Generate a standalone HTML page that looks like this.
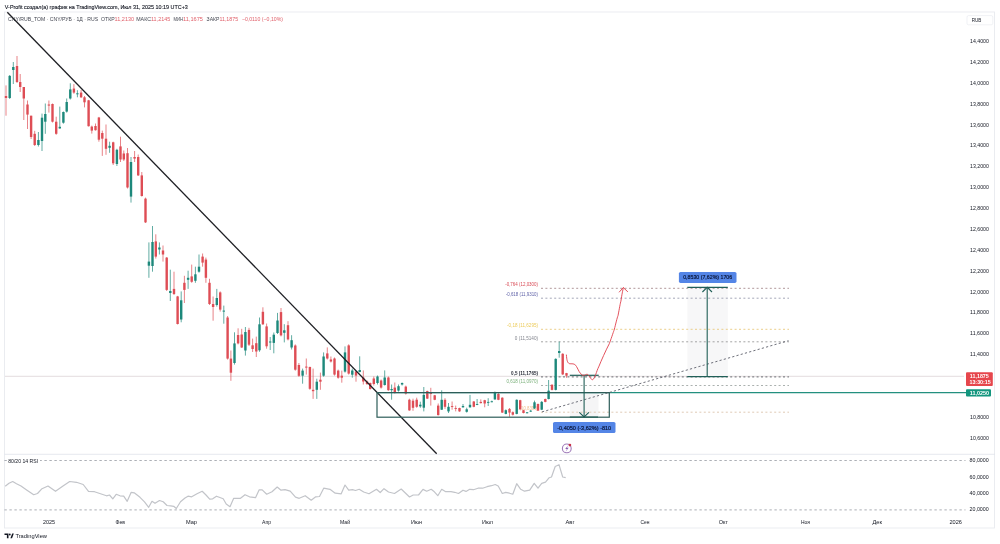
<!DOCTYPE html>
<html><head><meta charset="utf-8"><title>CNY/RUB chart</title>
<style>html,body{margin:0;padding:0;background:#fff;width:1000px;height:544px;overflow:hidden}svg{display:block;filter:blur(0.3px)}</style>
</head><body>
<svg width="1000" height="544" viewBox="0 0 1000 544" font-family="'Liberation Sans', 'Noto Sans CJK SC', sans-serif">
<rect width="1000" height="544" fill="#ffffff"/>
<text x="4.8" y="8.6" font-size="5.8" fill="#131722" textLength="183" lengthAdjust="spacingAndGlyphs" stroke="#131722" stroke-width="0.12">V-Profit создал(а) график на TradingView.com, Июл 31, 2025 10:19 UTC+3</text>
<rect x="4.5" y="12" width="990" height="516" fill="none" stroke="#e8eaef" stroke-width="0.9"/>
<line x1="4.5" y1="454.3" x2="995" y2="454.3" stroke="#e0e3eb" stroke-width="0.8"/>
<text x="8.1" y="20.9" font-size="5.4" fill="#434651" textLength="90" lengthAdjust="spacingAndGlyphs">CNY/RUB_TOM · CNY/РУБ · 1Д · RUS</text>
<text x="101" y="20.9" font-size="5.4" fill="#434651" textLength="13.6" lengthAdjust="spacingAndGlyphs">ОТКР</text><text x="114.6" y="20.9" font-size="5.4" fill="#e0606a" textLength="19.6" lengthAdjust="spacingAndGlyphs">11,2130</text>
<text x="136.2" y="20.9" font-size="5.4" fill="#434651" textLength="14.8" lengthAdjust="spacingAndGlyphs">МАКС</text><text x="151.0" y="20.9" font-size="5.4" fill="#e0606a" textLength="19.2" lengthAdjust="spacingAndGlyphs">11,2145</text>
<text x="173.4" y="20.9" font-size="5.4" fill="#434651" textLength="9.6" lengthAdjust="spacingAndGlyphs">МИН</text><text x="183.0" y="20.9" font-size="5.4" fill="#e0606a" textLength="20" lengthAdjust="spacingAndGlyphs">11,1675</text>
<text x="206.6" y="20.9" font-size="5.4" fill="#434651" textLength="12.8" lengthAdjust="spacingAndGlyphs">ЗАКР</text><text x="219.4" y="20.9" font-size="5.4" fill="#e0606a" textLength="18.8" lengthAdjust="spacingAndGlyphs">11,1875</text>
<text x="241.9" y="20.9" font-size="5.4" fill="#e0606a" textLength="41.1" lengthAdjust="spacingAndGlyphs">−0,0110 (−0,10%)</text>
<rect x="967" y="15.6" width="25.8" height="9.2" rx="1.5" fill="#fff" stroke="#e6e8ee" stroke-width="0.6"/>
<text x="971.7" y="21.9" font-size="5.0" fill="#131722" textLength="9.7" lengthAdjust="spacingAndGlyphs">RUB</text>
<text x="970.1" y="43.1" font-size="5.2" fill="#131722" textLength="18.8" lengthAdjust="spacingAndGlyphs">14,4000</text>
<text x="970.1" y="63.97" font-size="5.2" fill="#131722" textLength="18.8" lengthAdjust="spacingAndGlyphs">14,2000</text>
<text x="970.1" y="84.84" font-size="5.2" fill="#131722" textLength="18.8" lengthAdjust="spacingAndGlyphs">14,0000</text>
<text x="970.1" y="105.71" font-size="5.2" fill="#131722" textLength="18.8" lengthAdjust="spacingAndGlyphs">13,8000</text>
<text x="970.1" y="126.58" font-size="5.2" fill="#131722" textLength="18.8" lengthAdjust="spacingAndGlyphs">13,6000</text>
<text x="970.1" y="147.45" font-size="5.2" fill="#131722" textLength="18.8" lengthAdjust="spacingAndGlyphs">13,4000</text>
<text x="970.1" y="168.32" font-size="5.2" fill="#131722" textLength="18.8" lengthAdjust="spacingAndGlyphs">13,2000</text>
<text x="970.1" y="189.19" font-size="5.2" fill="#131722" textLength="18.8" lengthAdjust="spacingAndGlyphs">13,0000</text>
<text x="970.1" y="210.06" font-size="5.2" fill="#131722" textLength="18.8" lengthAdjust="spacingAndGlyphs">12,8000</text>
<text x="970.1" y="230.93" font-size="5.2" fill="#131722" textLength="18.8" lengthAdjust="spacingAndGlyphs">12,6000</text>
<text x="970.1" y="251.8" font-size="5.2" fill="#131722" textLength="18.8" lengthAdjust="spacingAndGlyphs">12,4000</text>
<text x="970.1" y="272.67" font-size="5.2" fill="#131722" textLength="18.8" lengthAdjust="spacingAndGlyphs">12,2000</text>
<text x="970.1" y="293.54" font-size="5.2" fill="#131722" textLength="18.8" lengthAdjust="spacingAndGlyphs">12,0000</text>
<text x="970.1" y="314.41" font-size="5.2" fill="#131722" textLength="18.8" lengthAdjust="spacingAndGlyphs">11,8000</text>
<text x="970.1" y="335.28" font-size="5.2" fill="#131722" textLength="18.8" lengthAdjust="spacingAndGlyphs">11,6000</text>
<text x="970.1" y="356.15" font-size="5.2" fill="#131722" textLength="18.8" lengthAdjust="spacingAndGlyphs">11,4000</text>
<text x="970.1" y="377.02" font-size="5.2" fill="#131722" textLength="18.8" lengthAdjust="spacingAndGlyphs">11,2000</text>
<text x="970.1" y="418.76" font-size="5.2" fill="#131722" textLength="18.8" lengthAdjust="spacingAndGlyphs">10,8000</text>
<text x="970.1" y="439.63" font-size="5.2" fill="#131722" textLength="18.8" lengthAdjust="spacingAndGlyphs">10,6000</text>
<text x="969.5" y="462.4" font-size="5.0" fill="#131722" textLength="19.2" lengthAdjust="spacingAndGlyphs">80,0000</text>
<text x="969.5" y="478.7" font-size="5.0" fill="#131722" textLength="19.2" lengthAdjust="spacingAndGlyphs">60,0000</text>
<text x="969.5" y="495.0" font-size="5.0" fill="#131722" textLength="19.2" lengthAdjust="spacingAndGlyphs">40,0000</text>
<text x="969.5" y="511.4" font-size="5.0" fill="#131722" textLength="19.2" lengthAdjust="spacingAndGlyphs">20,0000</text>
<text x="42.9" y="523.7" font-size="5.8" fill="#131722" textLength="12.1" lengthAdjust="spacingAndGlyphs">2025</text>
<text x="115.5" y="523.7" font-size="5.8" fill="#131722" textLength="9.5" lengthAdjust="spacingAndGlyphs">Фев</text>
<text x="186" y="523.7" font-size="5.8" fill="#131722" textLength="11" lengthAdjust="spacingAndGlyphs">Мар</text>
<text x="262" y="523.7" font-size="5.8" fill="#131722" textLength="9" lengthAdjust="spacingAndGlyphs">Апр</text>
<text x="340" y="523.7" font-size="5.8" fill="#131722" textLength="10" lengthAdjust="spacingAndGlyphs">Май</text>
<text x="411" y="523.7" font-size="5.8" fill="#131722" textLength="11" lengthAdjust="spacingAndGlyphs">Июн</text>
<text x="482" y="523.7" font-size="5.8" fill="#131722" textLength="11" lengthAdjust="spacingAndGlyphs">Июл</text>
<text x="565.5" y="523.7" font-size="5.8" fill="#131722" textLength="9" lengthAdjust="spacingAndGlyphs">Авг</text>
<text x="640.5" y="523.7" font-size="5.8" fill="#131722" textLength="9" lengthAdjust="spacingAndGlyphs">Сен</text>
<text x="718.8" y="523.7" font-size="5.8" fill="#131722" textLength="9.2" lengthAdjust="spacingAndGlyphs">Окт</text>
<text x="801" y="523.7" font-size="5.8" fill="#131722" textLength="9" lengthAdjust="spacingAndGlyphs">Ноя</text>
<text x="872.5" y="523.7" font-size="5.8" fill="#131722" textLength="9.5" lengthAdjust="spacingAndGlyphs">Дек</text>
<text x="949.5" y="523.7" font-size="5.8" fill="#131722" textLength="12.5" lengthAdjust="spacingAndGlyphs">2026</text>
<line x1="4.4" y1="460.5" x2="965.5" y2="460.5" stroke="#a3a6ad" stroke-width="0.9" stroke-dasharray="2.4 2.6"/>
<line x1="4.4" y1="509.9" x2="965.5" y2="509.9" stroke="#a3a6ad" stroke-width="0.9" stroke-dasharray="2.4 2.6"/>
<rect x="7" y="457.5" width="33" height="7" fill="#fff"/>
<text x="8.2" y="463.2" font-size="5.0" fill="#131722" textLength="30" lengthAdjust="spacingAndGlyphs">80/20 14 RSI</text>
<polyline points="5.2,486.3 9,483.3 12.7,481.5 16.5,483.8 21,486 27,490.2 33.7,494.7 37.5,493.5 42,488.7 48,486 55.5,491.3 63,486 69.7,481.5 76.5,482.3 83.2,484.5 88.5,491.3 94.5,491.7 100.5,493.8 106.5,495.8 109.5,495 112.8,498.8 116.2,494.3 120,495.8 123.7,496.2 127.2,501.3 131.2,492.3 134.2,492.8 140,497.3 144.5,501.8 148.7,507.3 152,501.3 155,503.3 159.5,500.5 163.2,501.8 167,505.5 170.7,505.8 173.7,506.3 176.3,508.5 180.5,501.8 185,498 188,496.2 191.7,496.8 197,493.8 202.2,491.3 206,495 209.7,499.2 212.7,498.8 216.5,496.2 223.2,498.8 226.2,504 230,506.7 233.7,498.3 240.5,498.3 245,494.7 249.5,496.8 255.5,497.7 259.2,489.8 262.2,489.9 266.7,494.2 272,491.7 277.2,487 281,490.2 285,489.7 290.2,491.2 295.5,497.2 299.2,498.3 305.2,495.7 311.2,500.2 315.7,496.8 319.5,496.5 323.7,488.2 330,489.3 335.2,493.2 341.2,493.8 345,485 348.7,490.2 352.5,489.7 355.5,490.5 359.2,489.3 363.7,492 369,493.8 376.5,489.3 380.2,492.5 384,488.7 388.5,492 394.5,493.5 401.2,489 409.5,497 413.2,495 418.5,495 423,489.4 426.7,491.2 431.2,489.3 433.7,491.2 437.8,495.7 441.7,489.3 445.7,491.7 451,491.7 454.7,492.3 458.5,493.5 463,490.2 466,491.4 469.7,489.3 473.5,489.7 478,488.2 482.5,488.2 487,486.7 491.5,485.7 495.2,484.5 498.2,486 502.3,493.5 505.7,492.4 509.5,493.2 512.8,494.2 516.7,483.7 520.7,489.3 524.5,491.2 529.7,490.2 534.2,483.3 538,488.2 541.7,483.3 545.5,482.2 549.2,477.7 551.5,477 555.2,466.5 559,464.7 562.7,477 565.7,477.7" fill="none" stroke="#c2c4c9" stroke-width="1.2" stroke-linejoin="round"/>
<line x1="5" y1="376.3" x2="964" y2="376.3" stroke="#ddd3d6" stroke-width="0.8"/>
<rect x="687.3" y="287.3" width="40.5" height="89.4" fill="#f6f6f7" fill-opacity="0.9"/>
<rect x="570" y="393" width="28.5" height="24" fill="#f5f5f6"/>
<line x1="541" y1="288.3" x2="789" y2="288.3" stroke="#a88c8e" stroke-width="0.9" stroke-dasharray="2 2.4"/>
<text x="505.2" y="286.0" font-size="4.9" fill="#d84a55" textLength="32.8" lengthAdjust="spacingAndGlyphs">-0,764 (12,0300)</text>
<line x1="541" y1="298.2" x2="789" y2="298.2" stroke="#9a9db0" stroke-width="0.9" stroke-dasharray="2 2.4"/>
<text x="505.8" y="295.9" font-size="4.9" fill="#5c5fa6" textLength="32.2" lengthAdjust="spacingAndGlyphs">-0,618 (11,9310)</text>
<line x1="541" y1="329.3" x2="789" y2="329.3" stroke="#e9c97e" stroke-width="0.9" stroke-dasharray="2 2.4"/>
<text x="507.1" y="327.0" font-size="4.9" fill="#eccb5a" textLength="30.9" lengthAdjust="spacingAndGlyphs">-0,18 (11,6295)</text>
<line x1="541" y1="341.8" x2="789" y2="341.8" stroke="#9a9a9a" stroke-width="0.9" stroke-dasharray="2 2.4"/>
<text x="514.8" y="339.5" font-size="4.9" fill="#80838c" textLength="23.2" lengthAdjust="spacingAndGlyphs">0 (11,5140)</text>
<line x1="541" y1="376.9" x2="789" y2="376.9" stroke="#6a6d72" stroke-width="1.0" stroke-dasharray="2 2.4"/>
<text x="511.1" y="374.6" font-size="4.9" fill="#2a2e39" font-weight="bold" textLength="26.9" lengthAdjust="spacingAndGlyphs">0,5 (11,1765)</text>
<line x1="541" y1="385.5" x2="789" y2="385.5" stroke="#a2a8a6" stroke-width="0.9" stroke-dasharray="2 2.4"/>
<text x="506.5" y="383.2" font-size="4.9" fill="#7ab07a" textLength="31.5" lengthAdjust="spacingAndGlyphs">0,618 (11,0970)</text>
<line x1="541" y1="412.2" x2="789" y2="412.2" stroke="#dcc4ae" stroke-width="0.9" stroke-dasharray="2 2.4"/>
<text x="516" y="409.9" font-size="4.9" fill="#efbf8e" textLength="22" lengthAdjust="spacingAndGlyphs">1 (10,8390)</text>
<line x1="6.0" y1="85.4" x2="6.0" y2="115.7" stroke="#de4d55" stroke-width="0.7"/>
<rect x="4.80" y="96.0" width="2.4" height="2.00" fill="#de4d55"/>
<line x1="9.7" y1="75.0" x2="9.7" y2="99.0" stroke="#1d887b" stroke-width="0.7"/>
<rect x="8.50" y="75.9" width="2.4" height="22.10" fill="#1d887b"/>
<line x1="13.3" y1="62.0" x2="13.3" y2="84.0" stroke="#1d887b" stroke-width="0.7"/>
<rect x="12.10" y="67.0" width="2.4" height="3.00" fill="#1d887b"/>
<line x1="17.0" y1="56.0" x2="17.0" y2="83.0" stroke="#de4d55" stroke-width="0.7"/>
<rect x="15.80" y="66.0" width="2.4" height="16.00" fill="#de4d55"/>
<line x1="20.2" y1="74.0" x2="20.2" y2="92.0" stroke="#de4d55" stroke-width="0.7"/>
<rect x="19.00" y="82.0" width="2.4" height="5.00" fill="#de4d55"/>
<line x1="23.8" y1="87.0" x2="23.8" y2="120.0" stroke="#de4d55" stroke-width="0.7"/>
<rect x="22.60" y="87.0" width="2.4" height="11.50" fill="#de4d55"/>
<line x1="27.5" y1="100.5" x2="27.5" y2="129.0" stroke="#de4d55" stroke-width="0.7"/>
<rect x="26.30" y="104.5" width="2.4" height="10.10" fill="#de4d55"/>
<line x1="31.1" y1="115.7" x2="31.1" y2="139.0" stroke="#de4d55" stroke-width="0.7"/>
<rect x="29.90" y="115.7" width="2.4" height="21.30" fill="#de4d55"/>
<line x1="34.7" y1="130.8" x2="34.7" y2="146.0" stroke="#de4d55" stroke-width="0.7"/>
<rect x="33.50" y="133.8" width="2.4" height="11.20" fill="#de4d55"/>
<line x1="38.4" y1="132.0" x2="38.4" y2="146.5" stroke="#1d887b" stroke-width="0.7"/>
<rect x="37.20" y="140.0" width="2.4" height="5.00" fill="#1d887b"/>
<line x1="42.0" y1="113.6" x2="42.0" y2="151.0" stroke="#1d887b" stroke-width="0.7"/>
<rect x="40.80" y="117.7" width="2.4" height="23.30" fill="#1d887b"/>
<line x1="45.3" y1="103.5" x2="45.3" y2="133.8" stroke="#1d887b" stroke-width="0.7"/>
<rect x="44.10" y="114.0" width="2.4" height="7.70" fill="#1d887b"/>
<line x1="48.9" y1="100.5" x2="48.9" y2="112.6" stroke="#de4d55" stroke-width="0.7"/>
<rect x="47.70" y="104.5" width="2.4" height="1.10" fill="#de4d55"/>
<line x1="52.5" y1="103.5" x2="52.5" y2="122.5" stroke="#de4d55" stroke-width="0.7"/>
<rect x="51.30" y="104.0" width="2.4" height="17.70" fill="#de4d55"/>
<line x1="56.2" y1="116.7" x2="56.2" y2="134.8" stroke="#de4d55" stroke-width="0.7"/>
<rect x="55.00" y="121.7" width="2.4" height="12.10" fill="#de4d55"/>
<line x1="59.8" y1="106.6" x2="59.8" y2="128.8" stroke="#1d887b" stroke-width="0.7"/>
<rect x="58.60" y="126.8" width="2.4" height="1.60" fill="#1d887b"/>
<line x1="63.4" y1="111.5" x2="63.4" y2="123.7" stroke="#1d887b" stroke-width="0.7"/>
<rect x="62.20" y="112.0" width="2.4" height="10.70" fill="#1d887b"/>
<line x1="66.7" y1="98.5" x2="66.7" y2="112.6" stroke="#1d887b" stroke-width="0.7"/>
<rect x="65.50" y="102.0" width="2.4" height="9.60" fill="#1d887b"/>
<line x1="70.3" y1="83.3" x2="70.3" y2="99.5" stroke="#1d887b" stroke-width="0.7"/>
<rect x="69.10" y="89.4" width="2.4" height="9.10" fill="#1d887b"/>
<line x1="73.9" y1="84.1" x2="73.9" y2="93.8" stroke="#de4d55" stroke-width="0.7"/>
<rect x="72.70" y="88.6" width="2.4" height="4.00" fill="#de4d55"/>
<line x1="77.4" y1="90.2" x2="77.4" y2="97.3" stroke="#1d887b" stroke-width="0.7"/>
<rect x="76.20" y="93.3" width="2.4" height="1.00" fill="#1d887b"/>
<line x1="81.1" y1="90.0" x2="81.1" y2="98.0" stroke="#de4d55" stroke-width="0.7"/>
<rect x="79.90" y="92.6" width="2.4" height="4.70" fill="#de4d55"/>
<line x1="84.5" y1="96.0" x2="84.5" y2="107.4" stroke="#de4d55" stroke-width="0.7"/>
<rect x="83.30" y="97.3" width="2.4" height="5.00" fill="#de4d55"/>
<line x1="88.6" y1="99.9" x2="88.6" y2="126.6" stroke="#de4d55" stroke-width="0.7"/>
<rect x="87.40" y="100.3" width="2.4" height="25.90" fill="#de4d55"/>
<line x1="91.8" y1="125.6" x2="91.8" y2="133.6" stroke="#de4d55" stroke-width="0.7"/>
<rect x="90.60" y="126.6" width="2.4" height="4.00" fill="#de4d55"/>
<line x1="95.5" y1="123.5" x2="95.5" y2="130.6" stroke="#de4d55" stroke-width="0.7"/>
<rect x="94.30" y="126.0" width="2.4" height="4.20" fill="#de4d55"/>
<line x1="98.9" y1="116.9" x2="98.9" y2="141.7" stroke="#de4d55" stroke-width="0.7"/>
<rect x="97.70" y="117.5" width="2.4" height="22.20" fill="#de4d55"/>
<line x1="102.3" y1="130.6" x2="102.3" y2="155.9" stroke="#de4d55" stroke-width="0.7"/>
<rect x="101.10" y="133.0" width="2.4" height="5.70" fill="#de4d55"/>
<line x1="106.0" y1="124.5" x2="106.0" y2="154.8" stroke="#de4d55" stroke-width="0.7"/>
<rect x="104.80" y="138.7" width="2.4" height="10.10" fill="#de4d55"/>
<line x1="109.6" y1="141.7" x2="109.6" y2="152.8" stroke="#1d887b" stroke-width="0.7"/>
<rect x="108.40" y="145.8" width="2.4" height="2.00" fill="#1d887b"/>
<line x1="113.2" y1="141.7" x2="113.2" y2="165.0" stroke="#de4d55" stroke-width="0.7"/>
<rect x="112.00" y="142.3" width="2.4" height="21.00" fill="#de4d55"/>
<line x1="116.9" y1="148.8" x2="116.9" y2="166.0" stroke="#1d887b" stroke-width="0.7"/>
<rect x="115.70" y="149.8" width="2.4" height="14.20" fill="#1d887b"/>
<line x1="120.5" y1="136.7" x2="120.5" y2="162.0" stroke="#de4d55" stroke-width="0.7"/>
<rect x="119.30" y="146.4" width="2.4" height="13.10" fill="#de4d55"/>
<line x1="123.8" y1="150.5" x2="123.8" y2="161.0" stroke="#de4d55" stroke-width="0.7"/>
<rect x="122.60" y="153.5" width="2.4" height="6.00" fill="#de4d55"/>
<line x1="127.5" y1="148.0" x2="127.5" y2="188.5" stroke="#de4d55" stroke-width="0.7"/>
<rect x="126.30" y="153.2" width="2.4" height="34.30" fill="#de4d55"/>
<line x1="131.0" y1="157.0" x2="131.0" y2="202.6" stroke="#1d887b" stroke-width="0.7"/>
<rect x="129.80" y="162.0" width="2.4" height="34.60" fill="#1d887b"/>
<line x1="134.6" y1="151.0" x2="134.6" y2="162.0" stroke="#de4d55" stroke-width="0.7"/>
<rect x="133.40" y="157.0" width="2.4" height="1.60" fill="#de4d55"/>
<line x1="138.2" y1="154.5" x2="138.2" y2="176.0" stroke="#de4d55" stroke-width="0.7"/>
<rect x="137.00" y="157.0" width="2.4" height="18.40" fill="#de4d55"/>
<line x1="141.8" y1="172.0" x2="141.8" y2="196.6" stroke="#de4d55" stroke-width="0.7"/>
<rect x="140.60" y="175.4" width="2.4" height="20.60" fill="#de4d55"/>
<line x1="145.5" y1="197.6" x2="145.5" y2="223.0" stroke="#de4d55" stroke-width="0.7"/>
<rect x="144.30" y="198.6" width="2.4" height="23.80" fill="#de4d55"/>
<line x1="148.9" y1="242.4" x2="148.9" y2="277.8" stroke="#1d887b" stroke-width="0.7"/>
<rect x="147.70" y="261.6" width="2.4" height="4.10" fill="#1d887b"/>
<line x1="152.5" y1="226.0" x2="152.5" y2="271.7" stroke="#1d887b" stroke-width="0.7"/>
<rect x="151.30" y="242.0" width="2.4" height="24.00" fill="#1d887b"/>
<line x1="155.8" y1="234.3" x2="155.8" y2="258.6" stroke="#de4d55" stroke-width="0.7"/>
<rect x="154.60" y="241.4" width="2.4" height="15.20" fill="#de4d55"/>
<line x1="159.4" y1="242.4" x2="159.4" y2="254.5" stroke="#1d887b" stroke-width="0.7"/>
<rect x="158.20" y="247.5" width="2.4" height="2.00" fill="#1d887b"/>
<line x1="163.0" y1="245.5" x2="163.0" y2="261.6" stroke="#de4d55" stroke-width="0.7"/>
<rect x="161.80" y="250.5" width="2.4" height="4.00" fill="#de4d55"/>
<line x1="166.7" y1="257.0" x2="166.7" y2="291.0" stroke="#de4d55" stroke-width="0.7"/>
<rect x="165.50" y="257.6" width="2.4" height="32.30" fill="#de4d55"/>
<line x1="170.3" y1="269.7" x2="170.3" y2="301.0" stroke="#1d887b" stroke-width="0.7"/>
<rect x="169.10" y="291.0" width="2.4" height="2.00" fill="#1d887b"/>
<line x1="174.0" y1="271.7" x2="174.0" y2="295.0" stroke="#de4d55" stroke-width="0.7"/>
<rect x="172.80" y="288.9" width="2.4" height="5.10" fill="#de4d55"/>
<line x1="177.6" y1="295.9" x2="177.6" y2="324.5" stroke="#de4d55" stroke-width="0.7"/>
<rect x="176.40" y="296.4" width="2.4" height="27.60" fill="#de4d55"/>
<line x1="181.2" y1="291.4" x2="181.2" y2="322.3" stroke="#1d887b" stroke-width="0.7"/>
<rect x="180.00" y="300.3" width="2.4" height="19.20" fill="#1d887b"/>
<line x1="184.4" y1="275.8" x2="184.4" y2="303.0" stroke="#de4d55" stroke-width="0.7"/>
<rect x="183.20" y="282.8" width="2.4" height="7.10" fill="#de4d55"/>
<line x1="188.1" y1="270.7" x2="188.1" y2="288.9" stroke="#1d887b" stroke-width="0.7"/>
<rect x="186.90" y="277.8" width="2.4" height="2.00" fill="#1d887b"/>
<line x1="191.7" y1="264.6" x2="191.7" y2="282.8" stroke="#de4d55" stroke-width="0.7"/>
<rect x="190.50" y="276.4" width="2.4" height="5.40" fill="#de4d55"/>
<line x1="195.4" y1="266.7" x2="195.4" y2="282.8" stroke="#1d887b" stroke-width="0.7"/>
<rect x="194.20" y="274.3" width="2.4" height="6.50" fill="#1d887b"/>
<line x1="199.0" y1="254.5" x2="199.0" y2="272.7" stroke="#1d887b" stroke-width="0.7"/>
<rect x="197.80" y="266.7" width="2.4" height="5.00" fill="#1d887b"/>
<line x1="202.6" y1="253.5" x2="202.6" y2="266.7" stroke="#de4d55" stroke-width="0.7"/>
<rect x="201.40" y="256.6" width="2.4" height="6.00" fill="#de4d55"/>
<line x1="205.9" y1="257.6" x2="205.9" y2="282.8" stroke="#de4d55" stroke-width="0.7"/>
<rect x="204.70" y="259.6" width="2.4" height="18.20" fill="#de4d55"/>
<line x1="209.5" y1="278.8" x2="209.5" y2="305.0" stroke="#de4d55" stroke-width="0.7"/>
<rect x="208.30" y="282.8" width="2.4" height="21.20" fill="#de4d55"/>
<line x1="213.1" y1="296.5" x2="213.1" y2="320.7" stroke="#de4d55" stroke-width="0.7"/>
<rect x="211.90" y="304.0" width="2.4" height="3.00" fill="#de4d55"/>
<line x1="216.8" y1="288.9" x2="216.8" y2="306.6" stroke="#1d887b" stroke-width="0.7"/>
<rect x="215.60" y="298.0" width="2.4" height="7.00" fill="#1d887b"/>
<line x1="220.2" y1="291.4" x2="220.2" y2="311.6" stroke="#de4d55" stroke-width="0.7"/>
<rect x="219.00" y="292.4" width="2.4" height="17.20" fill="#de4d55"/>
<line x1="223.8" y1="305.6" x2="223.8" y2="323.7" stroke="#1d887b" stroke-width="0.7"/>
<rect x="222.60" y="310.6" width="2.4" height="1.00" fill="#1d887b"/>
<line x1="227.6" y1="316.0" x2="227.6" y2="359.6" stroke="#de4d55" stroke-width="0.7"/>
<rect x="226.40" y="317.5" width="2.4" height="41.10" fill="#de4d55"/>
<line x1="230.9" y1="350.5" x2="230.9" y2="380.8" stroke="#de4d55" stroke-width="0.7"/>
<rect x="229.70" y="358.6" width="2.4" height="14.10" fill="#de4d55"/>
<line x1="234.5" y1="332.3" x2="234.5" y2="364.6" stroke="#1d887b" stroke-width="0.7"/>
<rect x="233.30" y="343.4" width="2.4" height="19.60" fill="#1d887b"/>
<line x1="238.1" y1="328.3" x2="238.1" y2="344.4" stroke="#de4d55" stroke-width="0.7"/>
<rect x="236.90" y="335.0" width="2.4" height="8.40" fill="#de4d55"/>
<line x1="241.7" y1="328.8" x2="241.7" y2="348.0" stroke="#de4d55" stroke-width="0.7"/>
<rect x="240.50" y="334.5" width="2.4" height="13.00" fill="#de4d55"/>
<line x1="245.4" y1="327.0" x2="245.4" y2="355.6" stroke="#1d887b" stroke-width="0.7"/>
<rect x="244.20" y="332.0" width="2.4" height="18.50" fill="#1d887b"/>
<line x1="249.0" y1="327.8" x2="249.0" y2="346.0" stroke="#de4d55" stroke-width="0.7"/>
<rect x="247.80" y="329.9" width="2.4" height="14.80" fill="#de4d55"/>
<line x1="252.6" y1="338.6" x2="252.6" y2="352.0" stroke="#de4d55" stroke-width="0.7"/>
<rect x="251.40" y="345.3" width="2.4" height="3.70" fill="#de4d55"/>
<line x1="256.3" y1="336.6" x2="256.3" y2="357.0" stroke="#de4d55" stroke-width="0.7"/>
<rect x="255.10" y="343.2" width="2.4" height="8.30" fill="#de4d55"/>
<line x1="259.5" y1="317.5" x2="259.5" y2="351.8" stroke="#1d887b" stroke-width="0.7"/>
<rect x="258.30" y="324.3" width="2.4" height="26.00" fill="#1d887b"/>
<line x1="262.9" y1="307.3" x2="262.9" y2="325.0" stroke="#de4d55" stroke-width="0.7"/>
<rect x="261.70" y="311.8" width="2.4" height="12.50" fill="#de4d55"/>
<line x1="266.6" y1="323.5" x2="266.6" y2="348.7" stroke="#de4d55" stroke-width="0.7"/>
<rect x="265.40" y="326.4" width="2.4" height="19.90" fill="#de4d55"/>
<line x1="270.2" y1="337.0" x2="270.2" y2="350.0" stroke="#1d887b" stroke-width="0.7"/>
<rect x="269.00" y="341.5" width="2.4" height="1.00" fill="#1d887b"/>
<line x1="273.8" y1="332.5" x2="273.8" y2="353.3" stroke="#1d887b" stroke-width="0.7"/>
<rect x="272.60" y="334.7" width="2.4" height="8.20" fill="#1d887b"/>
<line x1="277.5" y1="312.9" x2="277.5" y2="334.0" stroke="#1d887b" stroke-width="0.7"/>
<rect x="276.30" y="320.5" width="2.4" height="12.50" fill="#1d887b"/>
<line x1="281.0" y1="308.0" x2="281.0" y2="336.4" stroke="#de4d55" stroke-width="0.7"/>
<rect x="279.80" y="312.1" width="2.4" height="23.30" fill="#de4d55"/>
<line x1="284.3" y1="324.2" x2="284.3" y2="342.4" stroke="#1d887b" stroke-width="0.7"/>
<rect x="283.10" y="330.3" width="2.4" height="2.50" fill="#1d887b"/>
<line x1="288.0" y1="321.2" x2="288.0" y2="340.4" stroke="#de4d55" stroke-width="0.7"/>
<rect x="286.80" y="325.2" width="2.4" height="14.20" fill="#de4d55"/>
<line x1="291.6" y1="335.2" x2="291.6" y2="349.5" stroke="#1d887b" stroke-width="0.7"/>
<rect x="290.40" y="340.2" width="2.4" height="7.30" fill="#1d887b"/>
<line x1="295.3" y1="344.4" x2="295.3" y2="370.7" stroke="#de4d55" stroke-width="0.7"/>
<rect x="294.10" y="345.5" width="2.4" height="24.20" fill="#de4d55"/>
<line x1="298.9" y1="363.0" x2="298.9" y2="376.8" stroke="#de4d55" stroke-width="0.7"/>
<rect x="297.70" y="365.0" width="2.4" height="10.80" fill="#de4d55"/>
<line x1="302.6" y1="368.6" x2="302.6" y2="383.7" stroke="#1d887b" stroke-width="0.7"/>
<rect x="301.40" y="370.6" width="2.4" height="5.10" fill="#1d887b"/>
<line x1="306.3" y1="358.5" x2="306.3" y2="374.6" stroke="#de4d55" stroke-width="0.7"/>
<rect x="305.10" y="366.6" width="2.4" height="1.00" fill="#de4d55"/>
<line x1="309.9" y1="366.6" x2="309.9" y2="389.8" stroke="#de4d55" stroke-width="0.7"/>
<rect x="308.70" y="367.0" width="2.4" height="21.80" fill="#de4d55"/>
<line x1="313.1" y1="368.6" x2="313.1" y2="398.9" stroke="#de4d55" stroke-width="0.7"/>
<rect x="311.90" y="389.8" width="2.4" height="1.40" fill="#de4d55"/>
<line x1="316.8" y1="378.7" x2="316.8" y2="398.9" stroke="#1d887b" stroke-width="0.7"/>
<rect x="315.60" y="381.7" width="2.4" height="8.10" fill="#1d887b"/>
<line x1="320.4" y1="372.6" x2="320.4" y2="389.8" stroke="#de4d55" stroke-width="0.7"/>
<rect x="319.20" y="379.7" width="2.4" height="2.00" fill="#de4d55"/>
<line x1="323.6" y1="352.4" x2="323.6" y2="376.7" stroke="#1d887b" stroke-width="0.7"/>
<rect x="322.40" y="356.5" width="2.4" height="19.20" fill="#1d887b"/>
<line x1="327.3" y1="347.4" x2="327.3" y2="359.5" stroke="#de4d55" stroke-width="0.7"/>
<rect x="326.10" y="353.4" width="2.4" height="5.10" fill="#de4d55"/>
<line x1="330.9" y1="356.5" x2="330.9" y2="362.5" stroke="#de4d55" stroke-width="0.7"/>
<rect x="329.70" y="359.5" width="2.4" height="2.00" fill="#de4d55"/>
<line x1="334.5" y1="357.5" x2="334.5" y2="375.6" stroke="#de4d55" stroke-width="0.7"/>
<rect x="333.30" y="358.5" width="2.4" height="16.10" fill="#de4d55"/>
<line x1="338.2" y1="369.6" x2="338.2" y2="378.7" stroke="#de4d55" stroke-width="0.7"/>
<rect x="337.00" y="370.6" width="2.4" height="7.10" fill="#de4d55"/>
<line x1="341.8" y1="370.6" x2="341.8" y2="382.7" stroke="#de4d55" stroke-width="0.7"/>
<rect x="340.60" y="375.7" width="2.4" height="2.00" fill="#de4d55"/>
<line x1="345.0" y1="346.4" x2="345.0" y2="372.6" stroke="#1d887b" stroke-width="0.7"/>
<rect x="343.80" y="352.4" width="2.4" height="19.20" fill="#1d887b"/>
<line x1="348.7" y1="344.3" x2="348.7" y2="374.6" stroke="#de4d55" stroke-width="0.7"/>
<rect x="347.50" y="345.4" width="2.4" height="28.20" fill="#de4d55"/>
<line x1="352.3" y1="368.6" x2="352.3" y2="377.7" stroke="#1d887b" stroke-width="0.7"/>
<rect x="351.10" y="370.5" width="2.4" height="4.20" fill="#1d887b"/>
<line x1="356.0" y1="370.5" x2="356.0" y2="381.7" stroke="#de4d55" stroke-width="0.7"/>
<rect x="354.80" y="371.5" width="2.4" height="4.10" fill="#de4d55"/>
<line x1="359.7" y1="356.3" x2="359.7" y2="372.4" stroke="#1d887b" stroke-width="0.7"/>
<rect x="358.50" y="370.0" width="2.4" height="2.00" fill="#1d887b"/>
<line x1="363.3" y1="370.4" x2="363.3" y2="384.5" stroke="#de4d55" stroke-width="0.7"/>
<rect x="362.10" y="377.5" width="2.4" height="4.00" fill="#de4d55"/>
<line x1="367.0" y1="380.5" x2="367.0" y2="385.0" stroke="#de4d55" stroke-width="0.7"/>
<rect x="365.80" y="381.5" width="2.4" height="2.50" fill="#de4d55"/>
<line x1="370.2" y1="382.5" x2="370.2" y2="389.6" stroke="#de4d55" stroke-width="0.7"/>
<rect x="369.00" y="383.0" width="2.4" height="6.00" fill="#de4d55"/>
<line x1="373.8" y1="376.5" x2="373.8" y2="385.5" stroke="#de4d55" stroke-width="0.7"/>
<rect x="372.60" y="378.5" width="2.4" height="5.50" fill="#de4d55"/>
<line x1="377.5" y1="375.5" x2="377.5" y2="384.5" stroke="#1d887b" stroke-width="0.7"/>
<rect x="376.30" y="376.5" width="2.4" height="6.50" fill="#1d887b"/>
<line x1="381.1" y1="379.5" x2="381.1" y2="388.6" stroke="#de4d55" stroke-width="0.7"/>
<rect x="379.90" y="380.5" width="2.4" height="7.10" fill="#de4d55"/>
<line x1="384.7" y1="370.4" x2="384.7" y2="385.6" stroke="#1d887b" stroke-width="0.7"/>
<rect x="383.50" y="377.5" width="2.4" height="7.50" fill="#1d887b"/>
<line x1="388.4" y1="376.5" x2="388.4" y2="390.8" stroke="#de4d55" stroke-width="0.7"/>
<rect x="387.20" y="377.5" width="2.4" height="12.70" fill="#de4d55"/>
<line x1="391.6" y1="384.5" x2="391.6" y2="399.7" stroke="#1d887b" stroke-width="0.7"/>
<rect x="390.40" y="389.0" width="2.4" height="1.20" fill="#1d887b"/>
<line x1="394.8" y1="382.5" x2="394.8" y2="393.6" stroke="#de4d55" stroke-width="0.7"/>
<rect x="393.60" y="387.6" width="2.4" height="5.40" fill="#de4d55"/>
<line x1="398.5" y1="384.5" x2="398.5" y2="391.6" stroke="#1d887b" stroke-width="0.7"/>
<rect x="397.30" y="386.2" width="2.4" height="4.40" fill="#1d887b"/>
<line x1="402.1" y1="382.5" x2="402.1" y2="385.5" stroke="#1d887b" stroke-width="0.7"/>
<rect x="400.90" y="383.0" width="2.4" height="1.50" fill="#1d887b"/>
<line x1="405.8" y1="385.6" x2="405.8" y2="394.6" stroke="#de4d55" stroke-width="0.7"/>
<rect x="404.60" y="386.6" width="2.4" height="7.00" fill="#de4d55"/>
<line x1="409.4" y1="398.7" x2="409.4" y2="410.8" stroke="#de4d55" stroke-width="0.7"/>
<rect x="408.20" y="399.7" width="2.4" height="10.70" fill="#de4d55"/>
<line x1="413.0" y1="398.7" x2="413.0" y2="410.8" stroke="#de4d55" stroke-width="0.7"/>
<rect x="411.80" y="400.7" width="2.4" height="7.10" fill="#de4d55"/>
<line x1="416.7" y1="397.7" x2="416.7" y2="407.8" stroke="#de4d55" stroke-width="0.7"/>
<rect x="415.50" y="399.7" width="2.4" height="7.10" fill="#de4d55"/>
<line x1="420.3" y1="401.7" x2="420.3" y2="407.8" stroke="#1d887b" stroke-width="0.7"/>
<rect x="419.10" y="404.7" width="2.4" height="1.70" fill="#1d887b"/>
<line x1="423.8" y1="387.0" x2="423.8" y2="411.4" stroke="#1d887b" stroke-width="0.7"/>
<rect x="422.60" y="394.9" width="2.4" height="12.80" fill="#1d887b"/>
<line x1="427.3" y1="390.7" x2="427.3" y2="399.0" stroke="#de4d55" stroke-width="0.7"/>
<rect x="426.10" y="391.1" width="2.4" height="7.50" fill="#de4d55"/>
<line x1="430.8" y1="387.8" x2="430.8" y2="405.6" stroke="#de4d55" stroke-width="0.7"/>
<rect x="429.60" y="392.4" width="2.4" height="1.60" fill="#de4d55"/>
<line x1="434.7" y1="394.9" x2="434.7" y2="400.2" stroke="#de4d55" stroke-width="0.7"/>
<rect x="433.50" y="395.3" width="2.4" height="4.50" fill="#de4d55"/>
<line x1="438.2" y1="403.5" x2="438.2" y2="415.5" stroke="#de4d55" stroke-width="0.7"/>
<rect x="437.00" y="405.6" width="2.4" height="9.50" fill="#de4d55"/>
<line x1="441.7" y1="390.3" x2="441.7" y2="410.0" stroke="#1d887b" stroke-width="0.7"/>
<rect x="440.50" y="399.8" width="2.4" height="9.90" fill="#1d887b"/>
<line x1="445.0" y1="398.2" x2="445.0" y2="408.9" stroke="#de4d55" stroke-width="0.7"/>
<rect x="443.80" y="399.8" width="2.4" height="7.00" fill="#de4d55"/>
<line x1="448.5" y1="403.0" x2="448.5" y2="413.0" stroke="#1d887b" stroke-width="0.7"/>
<rect x="447.30" y="406.8" width="2.4" height="4.60" fill="#1d887b"/>
<line x1="452.1" y1="401.5" x2="452.1" y2="409.7" stroke="#de4d55" stroke-width="0.7"/>
<rect x="450.90" y="406.0" width="2.4" height="0.90" fill="#de4d55"/>
<line x1="455.7" y1="405.6" x2="455.7" y2="411.4" stroke="#de4d55" stroke-width="0.7"/>
<rect x="454.50" y="408.0" width="2.4" height="0.90" fill="#de4d55"/>
<line x1="459.5" y1="407.7" x2="459.5" y2="411.8" stroke="#de4d55" stroke-width="0.7"/>
<rect x="458.30" y="408.0" width="2.4" height="3.40" fill="#de4d55"/>
<line x1="463.0" y1="404.0" x2="463.0" y2="407.7" stroke="#1d887b" stroke-width="0.7"/>
<rect x="461.80" y="406.0" width="2.4" height="1.30" fill="#1d887b"/>
<line x1="466.7" y1="407.7" x2="466.7" y2="412.6" stroke="#1d887b" stroke-width="0.7"/>
<rect x="465.50" y="409.3" width="2.4" height="2.50" fill="#1d887b"/>
<line x1="470.0" y1="394.9" x2="470.0" y2="407.7" stroke="#1d887b" stroke-width="0.7"/>
<rect x="468.80" y="404.8" width="2.4" height="2.50" fill="#1d887b"/>
<line x1="473.8" y1="401.0" x2="473.8" y2="407.3" stroke="#de4d55" stroke-width="0.7"/>
<rect x="472.60" y="401.5" width="2.4" height="5.30" fill="#de4d55"/>
<line x1="477.1" y1="399.0" x2="477.1" y2="405.2" stroke="#1d887b" stroke-width="0.7"/>
<rect x="475.90" y="404.0" width="2.4" height="0.90" fill="#1d887b"/>
<line x1="480.8" y1="399.4" x2="480.8" y2="403.5" stroke="#de4d55" stroke-width="0.7"/>
<rect x="479.60" y="401.9" width="2.4" height="1.20" fill="#de4d55"/>
<line x1="484.7" y1="399.8" x2="484.7" y2="407.3" stroke="#de4d55" stroke-width="0.7"/>
<rect x="483.50" y="400.2" width="2.4" height="3.30" fill="#de4d55"/>
<line x1="488.2" y1="398.2" x2="488.2" y2="406.0" stroke="#1d887b" stroke-width="0.7"/>
<rect x="487.00" y="401.9" width="2.4" height="0.90" fill="#1d887b"/>
<line x1="491.8" y1="400.6" x2="491.8" y2="402.3" stroke="#1d887b" stroke-width="0.7"/>
<rect x="490.60" y="401.3" width="2.4" height="0.90" fill="#1d887b"/>
<line x1="494.9" y1="391.5" x2="494.9" y2="399.8" stroke="#1d887b" stroke-width="0.7"/>
<rect x="493.70" y="392.8" width="2.4" height="6.60" fill="#1d887b"/>
<line x1="498.4" y1="392.8" x2="498.4" y2="400.2" stroke="#de4d55" stroke-width="0.7"/>
<rect x="497.20" y="394.0" width="2.4" height="5.80" fill="#de4d55"/>
<line x1="502.3" y1="397.3" x2="502.3" y2="413.0" stroke="#de4d55" stroke-width="0.7"/>
<rect x="501.10" y="397.7" width="2.4" height="14.90" fill="#de4d55"/>
<line x1="505.8" y1="409.4" x2="505.8" y2="414.3" stroke="#1d887b" stroke-width="0.7"/>
<rect x="504.60" y="410.2" width="2.4" height="3.70" fill="#1d887b"/>
<line x1="509.5" y1="408.0" x2="509.5" y2="416.8" stroke="#de4d55" stroke-width="0.7"/>
<rect x="508.30" y="408.9" width="2.4" height="3.70" fill="#de4d55"/>
<line x1="512.8" y1="411.4" x2="512.8" y2="415.5" stroke="#de4d55" stroke-width="0.7"/>
<rect x="511.60" y="412.2" width="2.4" height="2.50" fill="#de4d55"/>
<line x1="516.7" y1="399.4" x2="516.7" y2="414.3" stroke="#1d887b" stroke-width="0.7"/>
<rect x="515.50" y="399.8" width="2.4" height="14.10" fill="#1d887b"/>
<line x1="520.2" y1="399.8" x2="520.2" y2="409.7" stroke="#de4d55" stroke-width="0.7"/>
<rect x="519.00" y="400.2" width="2.4" height="9.10" fill="#de4d55"/>
<line x1="523.5" y1="409.8" x2="523.5" y2="413.4" stroke="#de4d55" stroke-width="0.7"/>
<rect x="522.30" y="410.2" width="2.4" height="2.80" fill="#de4d55"/>
<line x1="527.1" y1="412.0" x2="527.1" y2="413.5" stroke="#1d887b" stroke-width="0.7"/>
<rect x="525.90" y="412.3" width="2.4" height="0.90" fill="#1d887b"/>
<line x1="530.7" y1="410.0" x2="530.7" y2="412.0" stroke="#1d887b" stroke-width="0.7"/>
<rect x="529.50" y="410.7" width="2.4" height="0.90" fill="#1d887b"/>
<line x1="534.5" y1="400.6" x2="534.5" y2="408.9" stroke="#1d887b" stroke-width="0.7"/>
<rect x="533.30" y="402.3" width="2.4" height="6.20" fill="#1d887b"/>
<line x1="538.0" y1="403.5" x2="538.0" y2="411.0" stroke="#de4d55" stroke-width="0.7"/>
<rect x="536.80" y="404.0" width="2.4" height="6.60" fill="#de4d55"/>
<line x1="541.7" y1="401.0" x2="541.7" y2="410.1" stroke="#1d887b" stroke-width="0.7"/>
<rect x="540.50" y="401.9" width="2.4" height="7.80" fill="#1d887b"/>
<line x1="545.3" y1="398.6" x2="545.3" y2="402.3" stroke="#de4d55" stroke-width="0.7"/>
<rect x="544.10" y="399.0" width="2.4" height="2.90" fill="#de4d55"/>
<line x1="548.6" y1="380.0" x2="548.6" y2="399.4" stroke="#1d887b" stroke-width="0.7"/>
<rect x="547.40" y="390.7" width="2.4" height="8.30" fill="#1d887b"/>
<line x1="552.0" y1="384.2" x2="552.0" y2="390.4" stroke="#de4d55" stroke-width="0.7"/>
<rect x="550.80" y="384.8" width="2.4" height="5.10" fill="#de4d55"/>
<line x1="555.7" y1="358.3" x2="555.7" y2="390.4" stroke="#1d887b" stroke-width="0.7"/>
<rect x="554.50" y="358.9" width="2.4" height="31.00" fill="#1d887b"/>
<line x1="559.2" y1="341.6" x2="559.2" y2="357.7" stroke="#1d887b" stroke-width="0.7"/>
<rect x="558.00" y="351.0" width="2.4" height="2.00" fill="#1d887b"/>
<line x1="562.7" y1="353.2" x2="562.7" y2="375.0" stroke="#de4d55" stroke-width="0.7"/>
<rect x="561.50" y="353.8" width="2.4" height="20.60" fill="#de4d55"/>
<line x1="566.5" y1="372.9" x2="566.5" y2="377.8" stroke="#de4d55" stroke-width="0.7"/>
<rect x="565.30" y="373.1" width="2.4" height="2.60" fill="#de4d55"/>
<line x1="7.3" y1="12.3" x2="436.7" y2="453.8" stroke="#1e1f24" stroke-width="1.3"/>
<line x1="377" y1="392.6" x2="966" y2="392.6" stroke="#23907f" stroke-width="1.2"/>
<rect x="377" y="392.6" width="232.3" height="24.6" fill="none" stroke="#2d5d59" stroke-width="1.2"/>
<line x1="542" y1="411.9" x2="788.5" y2="340.7" stroke="#5d606b" stroke-width="0.9" stroke-dasharray="2.2 2.2"/>
<line x1="569.8" y1="375.3" x2="598.7" y2="375.3" stroke="#215f57" stroke-width="1.2"/>
<line x1="569.8" y1="417.1" x2="598" y2="417.1" stroke="#215f57" stroke-width="1.2"/>
<line x1="584.1" y1="375.3" x2="584.1" y2="417" stroke="#215f57" stroke-width="1.1"/>
<polyline points="579.3,412.3 584.1,417 588.9,412.3" fill="none" stroke="#215f57" stroke-width="1.1"/>
<rect x="553" y="422" width="62.5" height="11.1" rx="1.6" fill="#5485e6"/>
<text x="584.2" y="429.6" font-size="5.8" fill="#0a1538" text-anchor="middle" textLength="54" lengthAdjust="spacingAndGlyphs" stroke="#0a1538" stroke-width="0.18">-0,4050 (-3,62%) -810</text>
<line x1="687.3" y1="287.3" x2="727.8" y2="287.3" stroke="#215f57" stroke-width="1.2"/>
<line x1="687.3" y1="376.7" x2="727.8" y2="376.7" stroke="#215f57" stroke-width="1.2"/>
<line x1="707.2" y1="287.3" x2="707.2" y2="376.7" stroke="#215f57" stroke-width="1.1"/>
<polyline points="702.4,292 707.2,287.3 712,292" fill="none" stroke="#215f57" stroke-width="1.1"/>
<rect x="678.9" y="271.9" width="57.6" height="11" rx="1.6" fill="#5485e6"/>
<text x="707.7" y="279.4" font-size="5.8" fill="#0a1538" text-anchor="middle" textLength="49" lengthAdjust="spacingAndGlyphs" stroke="#0a1538" stroke-width="0.18">0,8530 (7,62%) 1706</text>
<path d="M566.4,355 C566.8,360 567.2,362.6 569.3,363.6 C571.5,364.2 574.5,362.8 576.5,366.5 C578.5,370 579.5,373.5 582.5,375.2 C585,376 586,373.8 587.5,374.4 C589.5,375.2 591,380.5 592.8,379.6 C595,378.5 596.5,371 598.7,366.9 C601,361 606,350 609.3,343.7 C612,336.5 614,330 614.1,330.2 C616,323 617,318 618,315.7 C619.5,308 620.3,303 620.9,301.2 C621.8,295 622.8,290 623.3,287.8" fill="none" stroke="#e0404c" stroke-width="0.9" stroke-linecap="round"/>
<polyline points="619.3,292 623.3,287.6 627.6,291.6" fill="none" stroke="#e0404c" stroke-width="0.9" stroke-linecap="round" stroke-linejoin="round"/>
<rect x="966" y="372.2" width="26.8" height="13.8" rx="1" fill="#e6464c"/>
<text x="979.3" y="378.0" font-size="5.0" fill="#ffffff" text-anchor="middle" font-weight="bold" textLength="19" lengthAdjust="spacingAndGlyphs">11,1875</text>
<text x="980.1" y="383.9" font-size="5.0" fill="#ffffff" text-anchor="middle" font-weight="bold" textLength="21.3" lengthAdjust="spacingAndGlyphs">13:30:15</text>
<rect x="966" y="389.2" width="25" height="7.3" rx="1" fill="#13967e"/>
<text x="979.4" y="394.5" font-size="5.0" fill="#ffffff" text-anchor="middle" font-weight="bold" textLength="19.3" lengthAdjust="spacingAndGlyphs">11,0250</text>
<circle cx="566.8" cy="448.4" r="4.4" fill="#fff" stroke="#a07cba" stroke-width="1.1"/>
<path d="M568.2,445.2 L565.2,449 L567.0,449 L565.5,451.8 L568.7,447.8 L566.9,447.8 Z" fill="#8a5cb0"/>
<circle cx="569.9" cy="445.1" r="1.35" fill="#c8324a"/>
<g fill="#131722"><path d="M4.5,533.6 h4 v4.6 h-1.6 v-3.1 h-2.4 z"/><circle cx="9.8" cy="534.5" r="0.9"/><path d="M10.4,538.2 L12.2,533.6 h1.6 L12,538.2 z"/></g>
<text x="15.4" y="538.1" font-size="5.8" fill="#131722" textLength="31.6" lengthAdjust="spacingAndGlyphs">TradingView</text>
</svg>
</body></html>
